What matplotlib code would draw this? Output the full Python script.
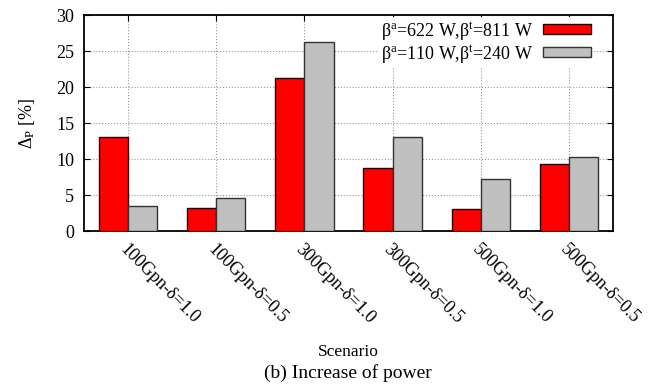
import matplotlib.pyplot as plt
import numpy as np

plt.rcParams['font.family'] = 'Liberation Serif'
plt.rcParams['mathtext.fontset'] = 'custom'
plt.rcParams['mathtext.rm'] = 'Liberation Serif'
plt.rcParams['mathtext.it'] = 'Liberation Serif:italic'

# values
scenarios = ['100Gpn-δ=1.0', '100Gpn-δ=0.5', '300Gpn-δ=1.0',
             '300Gpn-δ=0.5', '500Gpn-δ=1.0', '500Gpn-δ=0.5']
high_beta = [13.1, 3.15, 21.3, 8.8, 3.0, 9.25]
low_beta = [3.5, 4.6, 26.3, 13.1, 7.2, 10.3]
labels = [r'β$^{\rm a}$=622 W,β$^{\rm t}$=811 W',
          r'β$^{\rm a}$=110 W,β$^{\rm t}$=240 W']

fig = plt.figure(figsize=(6.59, 3.90), dpi=100)
ax = fig.add_axes([84/659, 1-231/390, (613-84)/659, (231-15)/390])

x = np.arange(len(scenarios))
w = 0.33
ax.bar(x - w/2, high_beta, w, color='#ff0000', edgecolor='#2a0000', linewidth=1, label=labels[0], zorder=3)
ax.bar(x + w/2, low_beta, w, color='#c0c0c0', edgecolor='#333333', linewidth=1, label=labels[1], zorder=3)

ax.set_xlim(-0.5, len(scenarios) - 0.5)
ax.set_ylim(0, 30)
ax.set_yticks(range(0, 31, 5))
ax.set_xticks(x)
ax.set_xticklabels(scenarios, rotation=-45, ha='left', va='top', rotation_mode='anchor', fontsize=12.5)
ax.tick_params(axis='x', pad=7)
ax.tick_params(axis='y', pad=7)
ax.tick_params(direction='in', top=True, right=True, length=4, labelsize=13)
ax.grid(True, linestyle=':', color='#999999', linewidth=0.8, zorder=0)
for s in ax.spines.values():
    s.set_linewidth(1.3)

ax.set_ylabel(r'Δ$_{\rm P}$ [%]', fontsize=13, labelpad=14)

leg = ax.legend(loc='upper right', bbox_to_anchor=(594/659, 1 - 17/390), bbox_transform=fig.transFigure,
                markerfirst=False, fontsize=13, frameon=True,
                edgecolor='none', facecolor='white', framealpha=1, fancybox=False,
                handlelength=2.7, handleheight=0.5, labelspacing=0.05,
                borderpad=0.15, borderaxespad=0, handletextpad=0.5)
leg.set_zorder(5)

fig.text(348/659, 1 - 352/390, 'Scenario', ha='center', va='center', fontsize=12.5)
fig.text(348/659, 1 - 373/390, '(b) Increase of power', ha='center', va='center', fontsize=14)

fig.savefig('out.png', dpi=100)
